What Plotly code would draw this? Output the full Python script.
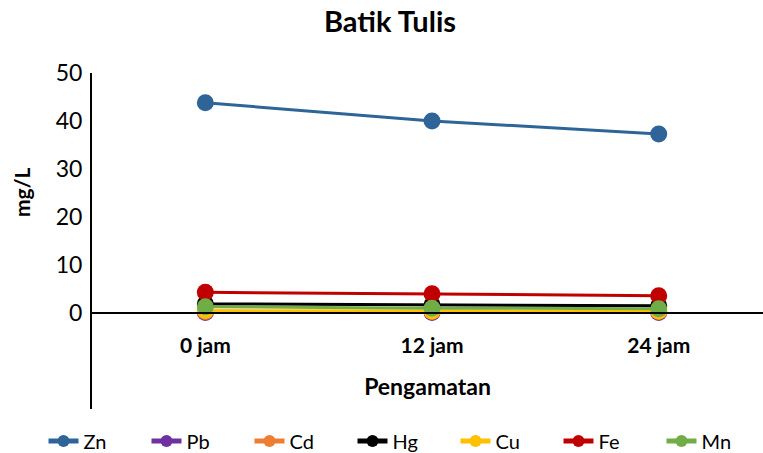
import plotly.graph_objects as go

# Observation times and measured concentrations (mg/L)
categories = ["0 jam", "12 jam", "24 jam"]
zn = [43.8, 40.0, 37.3]
pb = [0.1, 0.1, 0.1]
cd = [0.3, 0.3, 0.3]
hg = [1.9, 1.7, 1.5]
cu = [0.5, 0.4, 0.4]
fe = [4.3, 4.0, 3.6]
mn = [1.3, 1.0, 0.9]
y_ticks = [0, 10, 20, 30, 40, 50]

series = [
    ("Zn", zn, "#2E6497"),
    ("Pb", pb, "#7030A0"),
    ("Cd", cd, "#ED7D31"),
    ("Hg", hg, "#000000"),
    ("Cu", cu, "#FFC000"),
    ("Fe", fe, "#C00000"),
    ("Mn", mn, "#70AD47"),
]

FONT = "Lato"
W, H = 763, 453
x_pos = list(range(len(categories)))

fig = go.Figure()
for name, vals, color in series:
    fig.add_trace(go.Scatter(
        x=x_pos, y=vals, name=name, mode="lines+markers",
        line=dict(color=color, width=3),
        marker=dict(color=color, size=17),
    ))

y_min, y_max = -20, 50
fig.update_layout(
    width=W, height=H,
    margin=dict(l=0, r=0, t=73, b=44, autoexpand=False),
    paper_bgcolor="white", plot_bgcolor="white",
    font=dict(family=FONT, color="black"),
    title=dict(text="<b>Batik Tulis</b>", xref="container", x=390 / W,
               xanchor="center", y=1 - 22 / H, yanchor="middle",
               font=dict(size=29, family=FONT)),
    showlegend=True,
    legend=dict(orientation="h", xref="container", yref="container",
                x=404 / W, xanchor="center", y=1 - 441 / H, yanchor="middle",
                font=dict(size=20, family=FONT), itemsizing="constant",
                entrywidth=58, entrywidthmode="pixels",
                tracegroupgap=0, traceorder="normal"),
    xaxis=dict(
        domain=[92 / W, 1],
        range=[-0.5, 2.46], tickmode="array", tickvals=x_pos,
        ticktext=[f"<b>{c}</b>" for c in categories],
        showgrid=False, zeroline=False, showline=True, linecolor="black",
        linewidth=2, ticks="", anchor="free", automargin=False,
        position=(0 - y_min) / (y_max - y_min),
        tickfont=dict(size=21, family=FONT), ticklabelstandoff=14,
        title=dict(text="<b>Pengamatan</b>", font=dict(size=23, family=FONT),
                   standoff=22),
    ),
    yaxis=dict(
        range=[y_min, y_max], tickmode="array", tickvals=y_ticks,
        showgrid=False, zeroline=False, showline=True, linecolor="black",
        linewidth=2, ticks="", tickfont=dict(size=23, family=FONT),
        ticklabelstandoff=3, automargin=False,
    ),
)

# Vertical axis caption, centred on the labelled 0-50 span
fig.add_annotation(
    text="<b>mg/L</b>", textangle=-90, showarrow=False,
    xref="x domain", x=0, xanchor="center", xshift=-71,
    yref="y", y=(y_ticks[0] + y_ticks[-1]) / 2, yanchor="middle",
    font=dict(size=21, family=FONT),
)

fig.write_html("out.html")
